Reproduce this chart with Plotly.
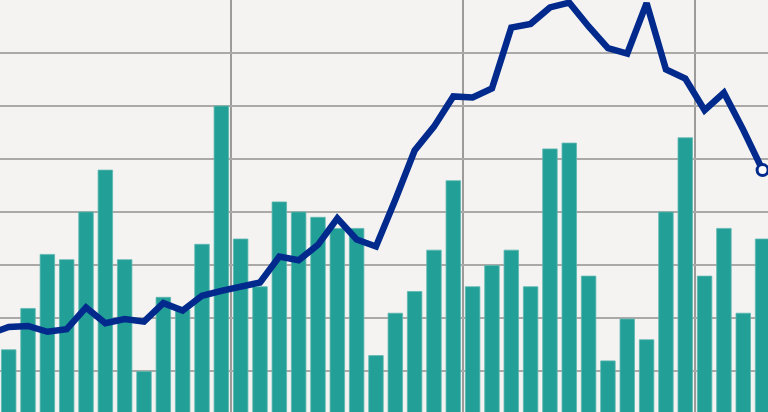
import plotly.graph_objects as go

# Data (arbitrary units, gridlines every 10)
bar_periods = list(range(40))
bar_values = [14.0, 21.8, 32.0, 31.0, 40.0, 47.9, 31.0, 9.9, 23.9, 21.5,
              33.9, 60.0, 34.9, 25.9, 41.9, 40.0, 39.0, 36.9, 36.9, 12.9,
              20.9, 25.0, 32.8, 45.9, 25.9, 29.9, 32.8, 25.9, 51.9, 53.0,
              27.9, 11.9, 19.8, 15.9, 40.0, 54.0, 27.9, 36.9, 20.9, 34.9]
# line starts one period earlier (just off the left edge)
line_periods = list(range(-1, 40))
line_values = [17.0,
               18.3, 18.5, 17.4, 17.9, 22.0, 19.0, 19.8, 19.3, 22.8, 21.4,
               24.2, 25.1, 25.9, 26.7, 31.6, 30.9, 33.8, 38.8, 34.8, 33.5,
               42.3, 51.6, 56.1, 61.8, 61.6, 63.3, 74.8, 75.5, 78.6, 79.5,
               75.0, 70.9, 69.9, 79.4, 66.9, 65.2, 59.2, 62.5, 55.5, 47.9]

BG = "#f4f3f2"
TEAL = "#229f96"
NAVY = "#012a8c"

fig = go.Figure()
fig.add_trace(go.Bar(
    x=bar_periods, y=bar_values, width=0.75,
    marker=dict(color=TEAL, line=dict(color="#5db8b1", width=0.8)),
    hoverinfo="skip",
))
fig.add_trace(go.Scatter(
    x=line_periods, y=line_values, mode="lines",
    line=dict(color=NAVY, width=6.5),
    hoverinfo="skip",
))
fig.add_trace(go.Scatter(
    x=[line_periods[-1]], y=[line_values[-1]], mode="markers",
    marker=dict(color="white", size=11, line=dict(color=NAVY, width=3)),
    hoverinfo="skip", cliponaxis=False,
))

fig.update_layout(
    width=768, height=412,
    margin=dict(l=0, r=0, t=0, b=0, pad=0),
    paper_bgcolor=BG, plot_bgcolor=BG,
    showlegend=False,
)
fig.update_xaxes(
    range=[-0.45, 39.28], tick0=-0.5, dtick=12, tickmode="linear",
    showgrid=True, gridcolor="#9d9b99", gridwidth=1.5,
    showticklabels=False, zeroline=False, showline=False, ticks="",
)
fig.update_yaxes(
    range=[2.26, 80], tick0=0, dtick=10, tickmode="linear",
    showgrid=True, gridcolor="#aba9a7", gridwidth=1.5,
    showticklabels=False, zeroline=False, showline=False, ticks="",
)

fig.write_html(
    "out.html",
    config={"displayModeBar": False, "staticPlot": True},
    post_script="document.body.style.margin='0';document.body.style.padding='0';",
)
